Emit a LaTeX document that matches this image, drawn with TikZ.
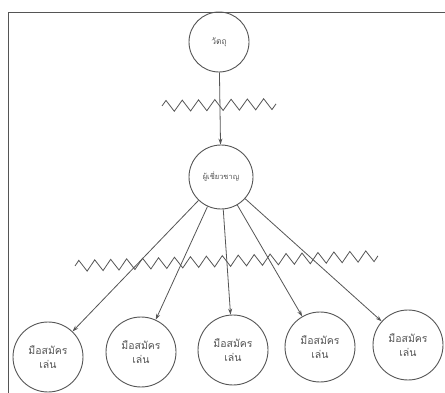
\documentclass[tikz,border=0pt]{standalone}
\usepackage{fontspec}
\newfontfamily\thaifont[Script=Thai]{Loma}
\usetikzlibrary{arrows.meta,decorations.pathmorphing}
\definecolor{ink}{HTML}{555555}
\tikzset{
  bubble/.style={circle,draw=ink,line width=0.9pt,inner sep=0pt,font=\thaifont,text=ink,align=center},
  link/.style={draw=ink,line width=0.8pt,-{Stealth[length=6pt,width=4pt]}},
  noise/.style={draw=ink,line width=0.8pt,decorate,decoration={zigzag,segment length=#1,amplitude=5.5pt}}
}
\begin{document}
\begin{tikzpicture}[x=1pt,y=-1pt]
\useasboundingbox (0,0) rectangle (445,393);
\fill[white] (0,0) rectangle (445,393);
% frame
\draw[ink,line width=1pt] (8,393) -- (8,13) -- (445,13);
% nodes
\node[bubble,minimum size=60pt,font=\thaifont\fontsize{8.5}{9}\selectfont] (obj) at (219,42) {วัตถุ};
\node[bubble,minimum size=64pt,font=\thaifont\fontsize{7.5}{8}\selectfont] (exp) at (221,177) {ผู้เชี่ยวชาญ};
\foreach \i/\x/\y in {1/48/357,2/141/352,3/233/350,4/320/347,5/408/345}{
  \node[bubble,minimum size=70pt,font=\thaifont\fontsize{10.5}{14}\selectfont] (am\i) at (\x,\y) {มือสมัคร\\เล่น};
}
% noise
\draw[noise=16.28pt] (162,106) -- (276,104);
\draw[noise=15.95pt] (75,266) -- (378,256);
% connectors
\draw[link] (obj) -- (exp);
\foreach \i in {1,...,5}{ \draw[link] (exp) -- (am\i); }
\end{tikzpicture}
\end{document}
